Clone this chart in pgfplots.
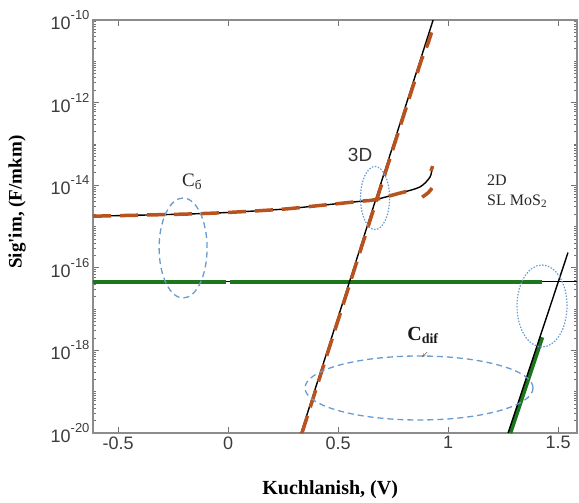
\documentclass[border=0pt]{standalone}
\usepackage{fontspec}
\setmainfont{Liberation Sans}
\newfontfamily\tnr{Liberation Serif}
\usepackage{pgfplots}
\pgfplotsset{compat=1.18}
\definecolor{orng}{RGB}{184,82,30}
\definecolor{grn}{RGB}{28,118,28}
\definecolor{ell}{RGB}{105,155,205}
\definecolor{ticktxt}{RGB}{60,60,60}
\newcommand{\tenpow}[1]{10\raisebox{0.55em}{\fontsize{13}{13}\selectfont #1}}
\begin{document}
\begin{tikzpicture}
\begin{axis}[
  scale only axis, width=484pt, height=413pt,
  ymode=log,
  xmin=-0.614, xmax=1.586, ymin=1e-20, ymax=1e-10,
  xtick={-0.5,0,0.5,1,1.5}, xticklabels={-0.5,0,0.5,1,1.5},
  ytick={1e-20,1e-18,1e-16,1e-14,1e-12,1e-10},
  yticklabels={\tenpow{-20},\tenpow{-18},\tenpow{-16},\tenpow{-14},\tenpow{-12},\tenpow{-10}},
  minor ytick={2e-20,3e-20,4e-20,5e-20,6e-20,7e-20,8e-20,9e-20,1e-19,
    2e-19,3e-19,4e-19,5e-19,6e-19,7e-19,8e-19,9e-19,
    2e-18,3e-18,4e-18,5e-18,6e-18,7e-18,8e-18,9e-18,1e-17,
    2e-17,3e-17,4e-17,5e-17,6e-17,7e-17,8e-17,9e-17,
    2e-16,3e-16,4e-16,5e-16,6e-16,7e-16,8e-16,9e-16,1e-15,
    2e-15,3e-15,4e-15,5e-15,6e-15,7e-15,8e-15,9e-15,
    2e-14,3e-14,4e-14,5e-14,6e-14,7e-14,8e-14,9e-14,1e-13,
    2e-13,3e-13,4e-13,5e-13,6e-13,7e-13,8e-13,9e-13,
    2e-12,3e-12,4e-12,5e-12,6e-12,7e-12,8e-12,9e-12,1e-11,
    2e-11,3e-11,4e-11,5e-11,6e-11,7e-11,8e-11,9e-11},
  tick align=inside,
  axis line style={draw=black!45, line width=1.1pt},
  major tick length=6pt, minor tick length=3pt,
  every tick/.style={black!55, line width=0.8pt},
  tick label style={font=\fontsize{18}{20}\selectfont, text=ticktxt},
  xlabel={\tnr\bfseries\fontsize{20}{22}\selectfont Kuchlanish, (V)},
  ylabel={\tnr\bfseries\fontsize{19}{21}\selectfont Sig'im, (F/mkm)},
  xlabel style={at={(rel axis cs:0.49,0)}, yshift=-57pt, anchor=center},
  ylabel style={at={(rel axis cs:-0.157,0.559)}, anchor=center},
  clip=true,
]
% thin black horizontal under green
\addplot[black, line width=0.9pt] coordinates {(-0.614,4.571e-17) (1.586,4.571e-17)};
% green horizontal (with small gap near 0)
\addplot[grn, line width=4.5pt] coordinates {(-0.62,4.571e-17) (-0.008,4.571e-17)};
\addplot[grn, line width=4.5pt] coordinates {(0.008,4.571e-17) (1.427,4.571e-17)};
% green 2D steep
\addplot[grn, line width=4.5pt] coordinates {(1.282,1e-20) (1.427,2.089e-18)};
% black 2D steep
\addplot[black, line width=1.4pt] coordinates {(1.273,1e-20) (1.545,2.34e-16)};
% black C6
\addplot[black, line width=1.4pt, smooth] coordinates {
  (-0.614,1.778e-15) (-0.2,1.995e-15) (0,2.188e-15) (0.25,2.630e-15)
  (0.4,3.162e-15) (0.6,4.07e-15) (0.668,4.47e-15) (0.782,6.46e-15)
  (0.873,9.12e-15) (0.918,1.585e-14) (0.927,2.63e-14)};
% black 3D
\addplot[black, line width=1.4pt] coordinates {(0.332,1e-20) (0.932,1e-10)};
% orange dashed 3D
\addplot[orng, line width=3.5pt, dash pattern=on 18pt off 9pt] coordinates {
  (0.336,1e-20) (0.88,1.122e-11) (0.91,2.818e-11) (0.925,5.012e-11)};
% orange dashed C6
\addplot[orng, line width=3.5pt, dash pattern=on 18pt off 9pt, smooth] coordinates {
  (-0.614,1.778e-15) (-0.2,1.995e-15) (0,2.188e-15) (0.25,2.630e-15)
  (0.4,3.162e-15) (0.6,4.07e-15) (0.668,4.47e-15) (0.782,6.46e-15) (0.83,7.4e-15)};
\addplot[orng, line width=3.5pt, smooth] coordinates {(0.882,5.13e-15) (0.91,6.6e-15) (0.927,8.51e-15)};
\addplot[orng, line width=3.5pt] coordinates {(0.922,2.2e-14) (0.93,2.9e-14)};
% ellipses
\draw[ell, line width=1.3pt, dash pattern=on 6pt off 4pt] (axis cs:-0.2045,3.02e-16) ellipse [x radius=24pt, y radius=50pt];
\draw[ell, line width=1.3pt, dash pattern=on 6pt off 4pt] (axis cs:0.868,1.23e-19) ellipse [x radius=114pt, y radius=32pt];
\draw[ell, line width=1.2pt, dash pattern=on 1.5pt off 1.5pt] (axis cs:0.668,4.9e-15) ellipse [x radius=14.5pt, y radius=31.5pt];
\draw[ell, line width=1.2pt, dash pattern=on 1.5pt off 1.5pt] (axis cs:1.427,1.19e-17) ellipse [x radius=25pt, y radius=41pt];
% annotations
\node[text=black!85, font=\tnr\fontsize{19}{21}\selectfont] at (axis cs:-0.1636,1.2e-14) {C\textsubscript{б}};
\node[text=black!80, font=\fontsize{19}{21}\selectfont] at (axis cs:0.6,5.37e-14) {3D};
\node[anchor=west, align=left, text=black!85, inner sep=0pt, font=\tnr\fontsize{16}{20}\selectfont] at (axis cs:1.177,7.2e-15) {2D\\SL MoS\textsubscript{2}};
\node[text=black!90, font=\tnr\bfseries\fontsize{20}{22}\selectfont] at (axis cs:0.886,2.34e-18) {C\textsubscript{dif}};
\draw[black!60, -stealth, line width=0.6pt] (axis cs:0.905,9.1e-19) -- (axis cs:0.882,6.9e-19);
\end{axis}
\path (-93pt,-69pt) rectangle (486pt,433pt);
\end{tikzpicture}
\end{document}
